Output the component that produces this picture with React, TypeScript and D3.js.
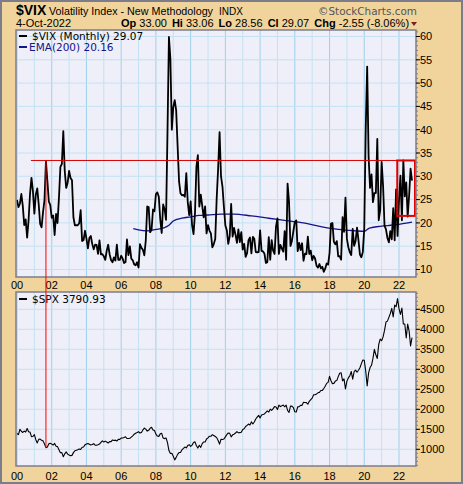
import React from "react";
import * as d3 from "d3";

// ---- DATA (monthly closes, Jan 2000 .. Oct 2022) ----
const startYear = 2000;
const vixMonthly: number[] = [
  24.95, 23.37, 24.11, 26.2, 23.65, 19.54, 20.74, 16.84, 20.57, 26.19, 29.66, 26.85,
  21.98, 26.1, 27.4, 24.0, 19.8, 19.06, 22.3, 24.9, 33.2, 29.0, 24.6, 23.8,
  21.09, 21.59, 17.4, 21.91, 19.98, 25.4, 32.03, 32.64, 39.69, 31.14, 27.5, 28.62,
  31.17, 29.63, 29.15, 21.21, 19.47, 19.52, 19.49, 19.91, 22.72, 16.1, 16.32, 18.31,
  16.63, 14.55, 16.74, 17.19, 15.5, 14.34, 15.32, 15.29, 13.34, 16.27, 13.24, 13.29,
  12.82, 12.08, 14.02, 15.31, 13.29, 12.04, 11.57, 12.6, 11.92, 15.32, 12.06, 12.07,
  12.95, 12.34, 11.39, 11.59, 16.44, 13.08, 14.95, 12.31, 11.98, 11.1, 10.91, 11.56,
  10.42, 15.42, 14.64, 14.22, 13.05, 16.23, 23.52, 23.38, 18.0, 18.53, 22.87, 22.5,
  26.2, 26.54, 25.61, 20.79, 17.83, 23.95, 22.94, 20.65, 39.39, 59.89, 55.28, 40.0,
  44.84, 46.35, 44.14, 36.5, 28.92, 26.35, 25.92, 26.01, 25.61, 30.69, 24.51, 21.68,
  24.62, 19.5, 17.59, 22.05, 32.07, 34.54, 23.5, 26.05, 23.7, 21.2, 23.54, 17.75,
  19.53, 18.35, 17.74, 14.75, 15.45, 16.52, 25.25, 31.62, 39.5, 29.96, 27.8, 23.4,
  19.44, 18.43, 15.5, 17.15, 24.06, 17.08, 18.93, 17.47, 15.73, 18.6, 15.87, 18.02,
  14.28, 15.51, 12.7, 13.52, 16.3, 16.86, 13.45, 17.01, 16.6, 13.75, 13.7, 13.72,
  18.41, 14.0, 13.88, 13.41, 11.4, 11.57, 16.95, 12.09, 16.31, 14.03, 13.33, 19.2,
  20.97, 13.34, 15.29, 14.55, 13.84, 18.23, 12.12, 28.43, 24.5, 15.07, 16.13, 18.21,
  20.2, 20.55, 13.95, 15.7, 14.19, 15.63, 11.87, 13.42, 13.29, 17.06, 13.33, 14.04,
  11.99, 12.92, 12.37, 10.82, 10.41, 11.18, 10.26, 10.59, 9.51, 10.18, 11.28, 11.04,
  13.54, 19.85, 19.97, 15.93, 15.43, 16.09, 12.83, 12.86, 12.12, 21.23, 18.07, 25.42,
  16.57, 14.78, 13.71, 13.12, 18.71, 15.08, 16.12, 18.98, 16.24, 13.22, 12.62, 13.78,
  18.84, 40.11, 53.54, 34.15, 27.51, 30.43, 24.46, 26.41, 26.37, 38.02, 20.57, 22.75,
  33.09, 27.95, 19.4, 18.61, 16.76, 15.83, 18.24, 16.48, 23.14, 16.26, 27.19, 17.22,
  24.83, 30.15, 20.56, 33.4, 25.69, 28.71, 21.33, 25.87, 31.62, 29.07,
];

const spxMonthly: number[] = [
  1394, 1366, 1499, 1452, 1421, 1455, 1431, 1518, 1437, 1429, 1315, 1320,
  1366, 1240, 1160, 1249, 1256, 1224, 1211, 1134, 1041, 1060, 1139, 1148,
  1130, 1107, 1147, 1077, 1067, 990, 912, 916, 815, 886, 936, 880,
  856, 841, 848, 917, 964, 975, 990, 1008, 996, 1051, 1058, 1112,
  1131, 1145, 1126, 1107, 1121, 1141, 1102, 1104, 1115, 1130, 1174, 1212,
  1181, 1204, 1181, 1157, 1192, 1191, 1234, 1220, 1229, 1207, 1249, 1248,
  1280, 1281, 1295, 1311, 1270, 1270, 1277, 1304, 1336, 1378, 1401, 1418,
  1438, 1407, 1421, 1482, 1531, 1503, 1455, 1474, 1527, 1549, 1481, 1468,
  1379, 1331, 1323, 1386, 1400, 1280, 1267, 1283, 1166, 969, 896, 903,
  826, 735, 798, 873, 919, 919, 987, 1021, 1057, 1036, 1096, 1115,
  1074, 1104, 1169, 1187, 1089, 1031, 1102, 1049, 1141, 1183, 1181, 1258,
  1286, 1327, 1326, 1364, 1345, 1321, 1292, 1219, 1131, 1253, 1247, 1258,
  1312, 1366, 1408, 1398, 1310, 1362, 1379, 1407, 1441, 1412, 1416, 1426,
  1498, 1515, 1569, 1598, 1631, 1606, 1686, 1633, 1682, 1757, 1806, 1848,
  1783, 1859, 1872, 1884, 1924, 1960, 1931, 2003, 1972, 2018, 2068, 2059,
  1995, 2105, 2068, 2086, 2107, 2063, 2104, 1972, 1920, 2079, 2080, 2044,
  1940, 1932, 2060, 2065, 2097, 2099, 2174, 2171, 2168, 2126, 2199, 2239,
  2279, 2364, 2363, 2384, 2412, 2423, 2470, 2472, 2519, 2575, 2648, 2674,
  2824, 2714, 2641, 2648, 2705, 2718, 2816, 2902, 2914, 2712, 2760, 2507,
  2704, 2784, 2834, 2946, 2752, 2942, 2980, 2926, 2977, 3038, 3141, 3231,
  3226, 2954, 2585, 2912, 3044, 3100, 3271, 3500, 3363, 3270, 3622, 3756,
  3714, 3811, 3973, 4181, 4204, 4298, 4395, 4523, 4308, 4605, 4567, 4766,
  4516, 4374, 4530, 4132, 4132, 3785, 4130, 3955, 3586, 3791,
];

const emaDates: number[] = [
  2006.7, 2007.0, 2007.5, 2008.0, 2008.5, 2008.75, 2009.0, 2009.5, 2010.0, 2010.5,
  2011.0, 2011.75, 2012.5, 2013.5, 2014.5, 2015.5, 2016.5, 2017.5, 2018.5, 2019.5,
  2020.0, 2020.3, 2021.0, 2021.5, 2022.0, 2022.75,
];
const emaValues: number[] = [
  18.8, 18.5, 18.3, 18.6, 19.0, 19.5, 20.4, 21.0, 21.3, 21.6,
  21.7, 21.9, 21.9, 21.5, 21.0, 20.5, 20.0, 19.2, 18.6, 18.3,
  18.2, 18.9, 19.3, 19.5, 19.7, 20.16,
];

const xTickYears: number[] = [2000, 2002, 2004, 2006, 2008, 2010, 2012, 2014, 2016, 2018, 2020, 2022];
const xTickLabels: string[] = ["00", "02", "04", "06", "08", "10", "12", "14", "16", "18", "20", "22"];
const vixTicks: number[] = [10, 15, 20, 25, 30, 35, 40, 45, 50, 55, 60];
const spxTicks: number[] = [1000, 1500, 2000, 2500, 3000, 3500, 4000, 4500];

const levelLine = 33.4; // horizontal resistance level
const levelStart = 2000.8;
const markerDate = 2001 + 8 / 12; // Sep 2001
const boxStart = 2021.9;
const boxTop = 33.4;
const boxBottom = 21.5;

// ---- LAYOUT ----
const W = 463;
const H = 484;
const P1 = { l: 16, t: 30, r: 416, b: 277 };
const P2 = { l: 16, t: 292, r: 416, b: 466 };

const TAN = "#f0d49c";
const PANEL = "#eeeff8";
const BORDER = "#7c7c8c";
const GRID_MAJOR = "#9fd0ec";
const GRID_MINOR = "#c4e2f2";
const SANS = "Liberation Sans, Arial, sans-serif";
const VERD = "DejaVu Sans, Verdana, sans-serif";

export default function App() {
  const x = d3.scaleLinear().domain([2000, 2022]).range([17, 399]);
  const yV = d3.scaleLinear().domain([10, 60]).range([269.5, 36.5]);
  const yS = d3.scaleLinear().domain([1000, 4500]).range([449.3, 309.3]);

  const tOf = (i: number) => startYear + i / 12;
  const vixLine = d3
    .line<number>()
    .x((_, i) => x(tOf(i)))
    .y((d) => yV(d));
  const spxLine = d3
    .line<number>()
    .x((_, i) => x(tOf(i)))
    .y((d) => yS(d));
  const emaLine = d3
    .line<number>()
    .x((_, i) => x(emaDates[i]))
    .y((d) => yV(d))
    .curve(d3.curveMonotoneX);

  const years = d3.range(2000, 2024).filter((yr) => x(yr) > P1.l && x(yr) < P1.r);
  const vixMinor = d3.range(9, 62, 1).filter((v) => yV(v) > P1.t && yV(v) < P1.b);
  const spxMinor = d3.range(600, 5000, 100).filter((v) => yS(v) > P2.t && yS(v) < P2.b);

  const markerIdx = Math.round((markerDate - startYear) * 12);

  const vGrid = (P: typeof P1) =>
    years.map((yr) => (
      <line
        key={"vg" + yr}
        x1={x(yr)}
        x2={x(yr)}
        y1={P.t}
        y2={P.b}
        stroke={yr % 2 === 0 ? GRID_MAJOR : GRID_MINOR}
        strokeWidth={1}
      />
    ));

  const xLabels = (yBase: number) =>
    xTickYears.map((yr, i) => (
      <text
        key={"xl" + yr + "_" + yBase}
        x={x(yr)}
        y={yBase}
        textAnchor="middle"
        fontFamily={SANS}
        fontSize={11}
        fill="#000"
      >
        {xTickLabels[i]}
      </text>
    ));

  return (
    <svg
      width={W}
      height={H}
      style={{ position: "absolute", left: 0, top: 0, display: "block" }}
    >
      <defs>
        <clipPath id="c1">
          <rect x={P1.l} y={P1.t} width={P1.r - P1.l} height={P1.b - P1.t} />
        </clipPath>
        <clipPath id="c2">
          <rect x={P2.l} y={P2.t} width={P2.r - P2.l} height={P2.b - P2.t} />
        </clipPath>
      </defs>
      <rect x={1} y={1} width={W - 2} height={H - 2} fill={TAN} stroke={BORDER} strokeWidth={2} />

      {/* Header */}
      <text x={16} y={15} fontFamily={SANS} fontSize={14} fontWeight="bold" fill="#000">
        $VIX
      </text>
      <text x={49} y={15} fontFamily={SANS} fontSize={11} fill="#000" textLength={164} lengthAdjust="spacingAndGlyphs">
        Volatility Index - New Methodology
      </text>
      <text x={219} y={15} fontFamily={SANS} fontSize={10} fill="#000">
        INDX
      </text>
      <text x={318} y={15} fontFamily={VERD} fontSize={11} fill="#555" textLength={99} lengthAdjust="spacingAndGlyphs">
        ©StockCharts.com
      </text>
      <text x={16} y={27} fontFamily={SANS} fontSize={11} fill="#000">
        4-Oct-2022
      </text>
      <text x={121} y={27} fontFamily={SANS} fontSize={11} fill="#000">
        <tspan fontWeight="bold">Op</tspan>
        <tspan> 33.00 </tspan>
        <tspan fontWeight="bold" dx={2}>Hi</tspan>
        <tspan> 33.06 </tspan>
        <tspan fontWeight="bold" dx={2}>Lo</tspan>
        <tspan> 28.56 </tspan>
        <tspan fontWeight="bold" dx={2}>Cl</tspan>
        <tspan> 29.07 </tspan>
        <tspan fontWeight="bold" dx={2}>Chg</tspan>
        <tspan> -2.55 (-8.06%)</tspan>
      </text>
      <path d="M411,22 L417,22 L414,26 Z" fill="#7a1f2a" />

      {/* Panel 1: VIX */}
      <rect x={P1.l} y={P1.t} width={P1.r - P1.l} height={P1.b - P1.t} fill={PANEL} />
      <g clipPath="url(#c1)">
        {vGrid(P1)}
        {vixTicks.map((v) => (
          <line key={"hg" + v} x1={P1.l} x2={P1.r} y1={yV(v)} y2={yV(v)} stroke={GRID_MINOR} strokeWidth={1} />
        ))}
        <path d={emaLine(emaValues) || ""} fill="none" stroke="#14148c" strokeWidth={1.3} />
        <path d={vixLine(vixMonthly) || ""} fill="none" stroke="#000" strokeWidth={1.8} strokeLinejoin="round" />
        <line x1={x(levelStart)} x2={x(boxStart)} y1={yV(levelLine)} y2={yV(levelLine)} stroke="#d40000" strokeWidth={1} />
        <rect
          x={x(boxStart)}
          y={yV(boxTop)}
          width={P1.r - x(boxStart) - 1}
          height={yV(boxBottom) - yV(boxTop)}
          fill="none"
          stroke="#e00000"
          strokeWidth={2}
        />
      </g>
      <rect x={P1.l} y={P1.t} width={P1.r - P1.l} height={P1.b - P1.t} fill="none" stroke={BORDER} strokeWidth={1.5} />
      {vixMinor.map((v) => (
        <line key={"vm" + v} x1={P1.r} x2={P1.r + 2} y1={yV(v)} y2={yV(v)} stroke={BORDER} strokeWidth={1} />
      ))}
      {vixTicks.map((v) => (
        <g key={"vt" + v}>
          <line x1={P1.r} x2={P1.r + 4} y1={yV(v)} y2={yV(v)} stroke="#000" strokeWidth={1} />
          <text x={P1.r + 4} y={yV(v)} dy="0.35em" fontFamily={SANS} fontSize={11} fill="#000">
            {v}
          </text>
        </g>
      ))}
      <line x1={19} x2={27} y1={36} y2={36} stroke="#000" strokeWidth={2} />
      <text x={32} y={39.5} fontFamily={VERD} fontSize={10.5} fill="#000">
        $VIX (Monthly) 29.07
      </text>
      <line x1={19} x2={27} y1={47} y2={47} stroke="#14148c" strokeWidth={2} />
      <text x={29} y={50.5} fontFamily={VERD} fontSize={10.5} fill="#14148c">
        EMA(200) 20.16
      </text>
      {xLabels(289)}

      {/* Panel 2: SPX */}
      <rect x={P2.l} y={P2.t} width={P2.r - P2.l} height={P2.b - P2.t} fill={PANEL} />
      <g clipPath="url(#c2)">
        {vGrid(P2)}
        {spxTicks.map((v) => (
          <line key={"sg" + v} x1={P2.l} x2={P2.r} y1={yS(v)} y2={yS(v)} stroke={GRID_MINOR} strokeWidth={1} />
        ))}
        <path d={spxLine(spxMonthly) || ""} fill="none" stroke="#000" strokeWidth={1.1} strokeLinejoin="round" />
      </g>
      <rect x={P2.l} y={P2.t} width={P2.r - P2.l} height={P2.b - P2.t} fill="none" stroke={BORDER} strokeWidth={1.5} />
      {spxMinor.map((v) => (
        <line key={"sm" + v} x1={P2.r} x2={P2.r + 2} y1={yS(v)} y2={yS(v)} stroke={BORDER} strokeWidth={1} />
      ))}
      {spxTicks.map((v) => (
        <g key={"st" + v}>
          <line x1={P2.r} x2={P2.r + 4} y1={yS(v)} y2={yS(v)} stroke="#000" strokeWidth={1} />
          <text x={P2.r + 4} y={yS(v)} dy="0.35em" fontFamily={SANS} fontSize={11} fill="#000">
            {v}
          </text>
        </g>
      ))}
      <line x1={19} x2={27} y1={299} y2={299} stroke="#000" strokeWidth={2} />
      <text x={32} y={302.5} fontFamily={VERD} fontSize={10.5} fill="#000">
        $SPX 3790.93
      </text>
      {xLabels(480)}

      {/* Red vertical marker spanning both panels */}
      <line
        x1={x(markerDate)}
        x2={x(markerDate)}
        y1={yV(levelLine)}
        y2={yS(spxMonthly[markerIdx])}
        stroke="#ff0000"
        strokeWidth={1}
      />
    </svg>
  );
}
